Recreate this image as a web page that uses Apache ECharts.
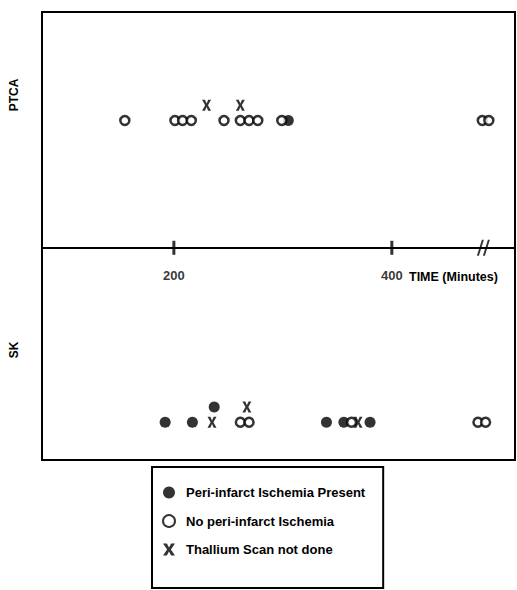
<!DOCTYPE html>
<html><head><meta charset="utf-8">
<script src="https://cdn.jsdelivr.net/npm/echarts@6/dist/echarts.min.js"></script>
<style>html,body{margin:0;padding:0;background:#fff}#c{width:517px;height:590px}</style>
</head><body><div id="c"></div>
<script>
// ---- data (time in minutes) ----
var ptcaFilled = [305];
var ptcaOpen = [155, 201, 208, 216, 246, 261, 269, 277, 299, 483, 489];
var ptcaX = [230, 261];            // drawn slightly above the row
var skFilled = [192, 217, 340, 356, 380];
var skFilledRaised = [237];
var skOpen = [261, 269, 363, 479, 486];
var skX = [235, 369];
var skXRaised = [267];
var tickValues = [200, 400];
var breakValues = [484];
var groups = ['PTCA', 'SK'];
var seriesNames = ['Peri-infarct Ischemia Present', 'No peri-infarct Ischemia', 'Thallium Scan not done'];

// row layout on the vertical value axis
var ROW = { PTCA: 0.54, SK: -0.74 };
var RAISE = 0.065;
function pts(arr, y) { return arr.map(function (v) { return [v, y]; }); }

var xPath = 'path://M0,0 L3.2,0 L5,3.4 L6.8,0 L10,0 L6.6,5 L10,10 L6.8,10 L5,6.6 L3.2,10 L0,10 L3.4,5 Z';
var breakPath = 'path://M0,16 L5,0 L7,0 L2,16 Z M6,16 L11,0 L13,0 L8,16 Z';

var chart = echarts.init(document.getElementById('c'), null, { renderer: 'svg' });
var FONT = 'Liberation Sans';
chart.setOption({
  animation: false,
  textStyle: { fontFamily: FONT },
  grid: { left: 42, right: 2, top: 12, bottom: 130, show: true, borderColor: '#000', borderWidth: 2, backgroundColor: '#fff' },
  xAxis: {
    type: 'value', min: 79, max: 513,
    axisLine: { onZero: true, lineStyle: { color: '#000', width: 2 } },
    axisTick: { show: false },
    splitLine: { show: false },
    axisLabel: { show: false }
  },
  yAxis: {
    type: 'value', min: -0.9, max: 1,
    axisLine: { show: false }, axisTick: { show: false }, axisLabel: { show: false }, splitLine: { show: false }
  },
  legend: {
    orient: 'vertical', left: 152, top: 467,
    data: seriesNames,
    itemWidth: 12, itemHeight: 12, itemGap: 15,
    borderColor: '#000', borderWidth: 2,
    padding: [19, 18, 32, 10],
    textStyle: { fontSize: 13, fontWeight: 'bold', color: '#000', fontFamily: FONT, padding: [0, 0, 0, 6] }
  },
  series: [
    { name: seriesNames[0], type: 'scatter', symbol: 'circle', symbolSize: 11,
      itemStyle: { color: '#000' },
      data: pts(ptcaFilled, ROW.PTCA).concat(pts(skFilled, ROW.SK)).concat(pts(skFilledRaised, ROW.SK + RAISE)) },
    { name: seriesNames[1], type: 'scatter', symbol: 'circle', symbolSize: 9,
      itemStyle: { color: '#fff', borderColor: '#000', borderWidth: 2.5 },
      data: pts(ptcaOpen, ROW.PTCA).concat(pts(skOpen, ROW.SK)) },
    { name: seriesNames[2], type: 'scatter', symbol: xPath, symbolSize: [9, 11],
      itemStyle: { color: '#000' },
      data: pts(ptcaX, ROW.PTCA + RAISE).concat(pts(skX, ROW.SK)).concat(pts(skXRaised, ROW.SK + RAISE)) },
    { name: 'ticks', type: 'scatter', symbol: 'rect', symbolSize: [3, 14], silent: true,
      itemStyle: { color: '#000' }, data: pts(tickValues, 0),
      label: { show: true, position: 'bottom', distance: 14, color: '#000', fontSize: 13, fontWeight: 'bold', fontFamily: FONT,
        formatter: function (p) { return String(p.value[0]); } } },
    { name: 'break', type: 'scatter', symbol: breakPath, symbolSize: [13, 16], silent: true,
      itemStyle: { color: '#000' }, data: pts(breakValues, 0) }
  ],
  graphic: [
    { type: 'text', x: 409, y: 270, style: { text: 'TIME (Minutes)', fill: '#000', font: 'bold 12.5px "Liberation Sans"' } },
    { type: 'text', x: 14, y: 95, rotation: Math.PI / 2, style: { text: groups[0], fill: '#000', font: 'bold 12px "Liberation Sans"', align: 'center', verticalAlign: 'middle' } },
    { type: 'text', x: 14, y: 350, rotation: Math.PI / 2, style: { text: groups[1], fill: '#000', font: 'bold 12px "Liberation Sans"', align: 'center', verticalAlign: 'middle' } }
  ]
});
</script></body></html>
